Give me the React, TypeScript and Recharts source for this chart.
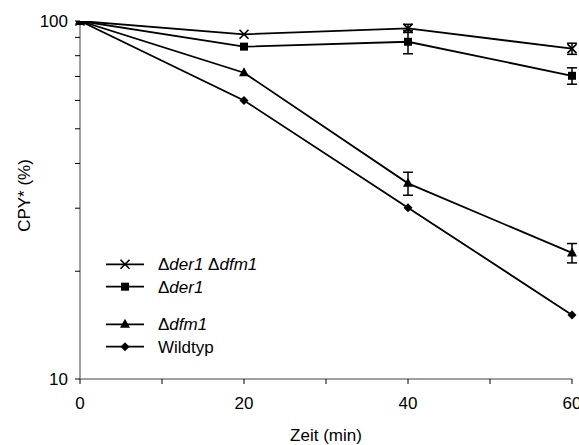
import { LineChart, Line, XAxis, YAxis, ErrorBar, Legend } from 'recharts'

// CPY* remaining over time, log scale
const times = [0, 20, 40, 60]
const der1dfm1 = [100, 91.8, 95.4, 83.7]
const der1dfm1Err = [0, 0, 2.5, 3]
const der1 = [100, 84.8, 87.5, 70.3]
const der1Err = [0, 0, 6.5, 3.7]
const dfm1 = [100, 71.7, 35.2, 22.5]
const dfm1Err = [0, 0, 2.6, 1.4]
const wildtyp = [100, 60, 30.1, 15.1]

const xTicks = [0, 10, 20, 30, 40, 50, 60]
const xTickLabels = [0, 20, 40, 60]
const yTicks = [10, 20, 30, 40, 50, 60, 70, 80, 90, 100]
const yTickLabels = [10, 100]

const data = times.map((t, i) => ({
  t,
  der1dfm1: der1dfm1[i],
  der1dfm1Err: der1dfm1Err[i],
  der1: der1[i],
  der1Err: der1Err[i],
  dfm1: dfm1[i],
  dfm1Err: dfm1Err[i],
  wildtyp: wildtyp[i],
}))

const FONT = "'Liberation Sans', Arial, sans-serif"
const FS = 17

type Shape = 'cross' | 'square' | 'triangle' | 'diamond'

function Marker({ shape, cx, cy }: { shape: Shape; cx: number; cy: number }) {
  if (shape === 'cross') {
    const r = 4.5
    return (
      <path
        d={`M${cx - r},${cy - r}L${cx + r},${cy + r}M${cx - r},${cy + r}L${cx + r},${cy - r}`}
        stroke="#000"
        strokeWidth={1.6}
        fill="none"
      />
    )
  }
  if (shape === 'square') return <rect x={cx - 4} y={cy - 4} width={8} height={8} fill="#000" />
  if (shape === 'triangle')
    return <path d={`M${cx},${cy - 5.5}L${cx + 5},${cy + 3.5}L${cx - 5},${cy + 3.5}Z`} fill="#000" />
  return <path d={`M${cx},${cy - 4.5}L${cx + 4.5},${cy}L${cx},${cy + 4.5}L${cx - 4.5},${cy}Z`} fill="#000" />
}

const dotFor = (shape: Shape) => (p: any) => (
  <Marker key={`${shape}-${p.index}`} shape={shape} cx={p.cx} cy={p.cy} />
)

const legendRows: { shape: Shape; y: number; parts: [string, boolean][] }[] = [
  { shape: 'cross', y: 14.3, parts: [['Δ', false], ['der1', true], [' Δ', false], ['dfm1', true]] },
  { shape: 'square', y: 36.7, parts: [['Δ', false], ['der1', true]] },
  { shape: 'triangle', y: 74.3, parts: [['Δ', false], ['dfm1', true]] },
  { shape: 'diamond', y: 96.7, parts: [['Wildtyp', false]] },
]

function LegendBox() {
  return (
    <svg width={240} height={110} style={{ display: 'block' }}>
      {legendRows.map((r) => (
        <g key={r.shape}>
          <line x1={6} x2={44} y1={r.y} y2={r.y} stroke="#000" strokeWidth={1.8} />
          <Marker shape={r.shape} cx={25} cy={r.y} />
          <text x={58} y={r.y} dy="0.36em" fontSize={FS} fontFamily={FONT} fill="#000">
            {r.parts.map(([s, it], i) => (
              <tspan key={i} fontStyle={it ? 'italic' : 'normal'}>
                {s}
              </tspan>
            ))}
          </text>
        </g>
      ))}
    </svg>
  )
}

const yLabel = (props: any) => {
  const vb = props.viewBox
  const x = vb.x + 24
  const y = vb.y + vb.height / 2 - 4.5
  return (
    <text
      x={x}
      y={y}
      transform={`rotate(-90 ${x} ${y})`}
      textAnchor="middle"
      dominantBaseline="central"
      fontSize={FS}
      fontFamily={FONT}
      fill="#000"
    >
      CPY* (%)
    </text>
  )
}

export default function App() {
  const tickStyle = { fontSize: FS, fill: '#000', fontFamily: FONT }
  return (
    <div style={{ position: 'absolute', left: 0, top: 0, fontFamily: FONT, background: '#fff' }}>
      <LineChart width={579} height={445} data={data} margin={{ top: 21, right: 7, left: 0, bottom: 0 }}>
        <XAxis
          dataKey="t"
          type="number"
          domain={[0, 60]}
          ticks={xTicks}
          interval={0}
          tickFormatter={(v: number) => (xTickLabels.includes(v) ? String(v) : '')}
          tick={tickStyle}
          tickSize={5}
          tickMargin={13}
          height={66}
          axisLine={{ stroke: '#808080', strokeWidth: 1.5 }}
          tickLine={{ stroke: '#000', strokeWidth: 1 }}
          label={{ value: 'Zeit (min)', position: 'insideBottom', offset: 4, fontSize: FS, fill: '#000', fontFamily: FONT }}
        />
        <YAxis
          scale="log"
          domain={[10, 100]}
          ticks={yTicks}
          interval={0}
          allowDataOverflow
          tickFormatter={(v: number) => (yTickLabels.includes(v) ? String(v) : '')}
          tick={tickStyle}
          tickSize={5}
          tickMargin={7}
          width={80}
          axisLine={{ stroke: '#808080', strokeWidth: 1.5 }}
          tickLine={{ stroke: '#000', strokeWidth: 1 }}
          label={yLabel}
        />
        <Legend
          layout="vertical"
          align="center"
          verticalAlign="middle"
          wrapperStyle={{ left: 100, top: 250, width: 240, height: 110 }}
          content={() => <LegendBox />}
        />
        <Line
          dataKey="wildtyp"
          stroke="#000"
          strokeWidth={1.8}
          dot={dotFor('diamond')}
          activeDot={false}
          isAnimationActive={false}
        />
        <Line
          dataKey="dfm1"
          stroke="#000"
          strokeWidth={1.8}
          dot={dotFor('triangle')}
          activeDot={false}
          isAnimationActive={false}
        >
          <ErrorBar dataKey="dfm1Err" direction="y" width={5} stroke="#000" strokeWidth={1.5} isAnimationActive={false} />
        </Line>
        <Line
          dataKey="der1"
          stroke="#000"
          strokeWidth={1.8}
          dot={dotFor('square')}
          activeDot={false}
          isAnimationActive={false}
        >
          <ErrorBar dataKey="der1Err" direction="y" width={5} stroke="#000" strokeWidth={1.5} isAnimationActive={false} />
        </Line>
        <Line
          dataKey="der1dfm1"
          stroke="#000"
          strokeWidth={1.8}
          dot={dotFor('cross')}
          activeDot={false}
          isAnimationActive={false}
        >
          <ErrorBar dataKey="der1dfm1Err" direction="y" width={5} stroke="#000" strokeWidth={1.5} isAnimationActive={false} />
        </Line>
      </LineChart>
    </div>
  )
}
